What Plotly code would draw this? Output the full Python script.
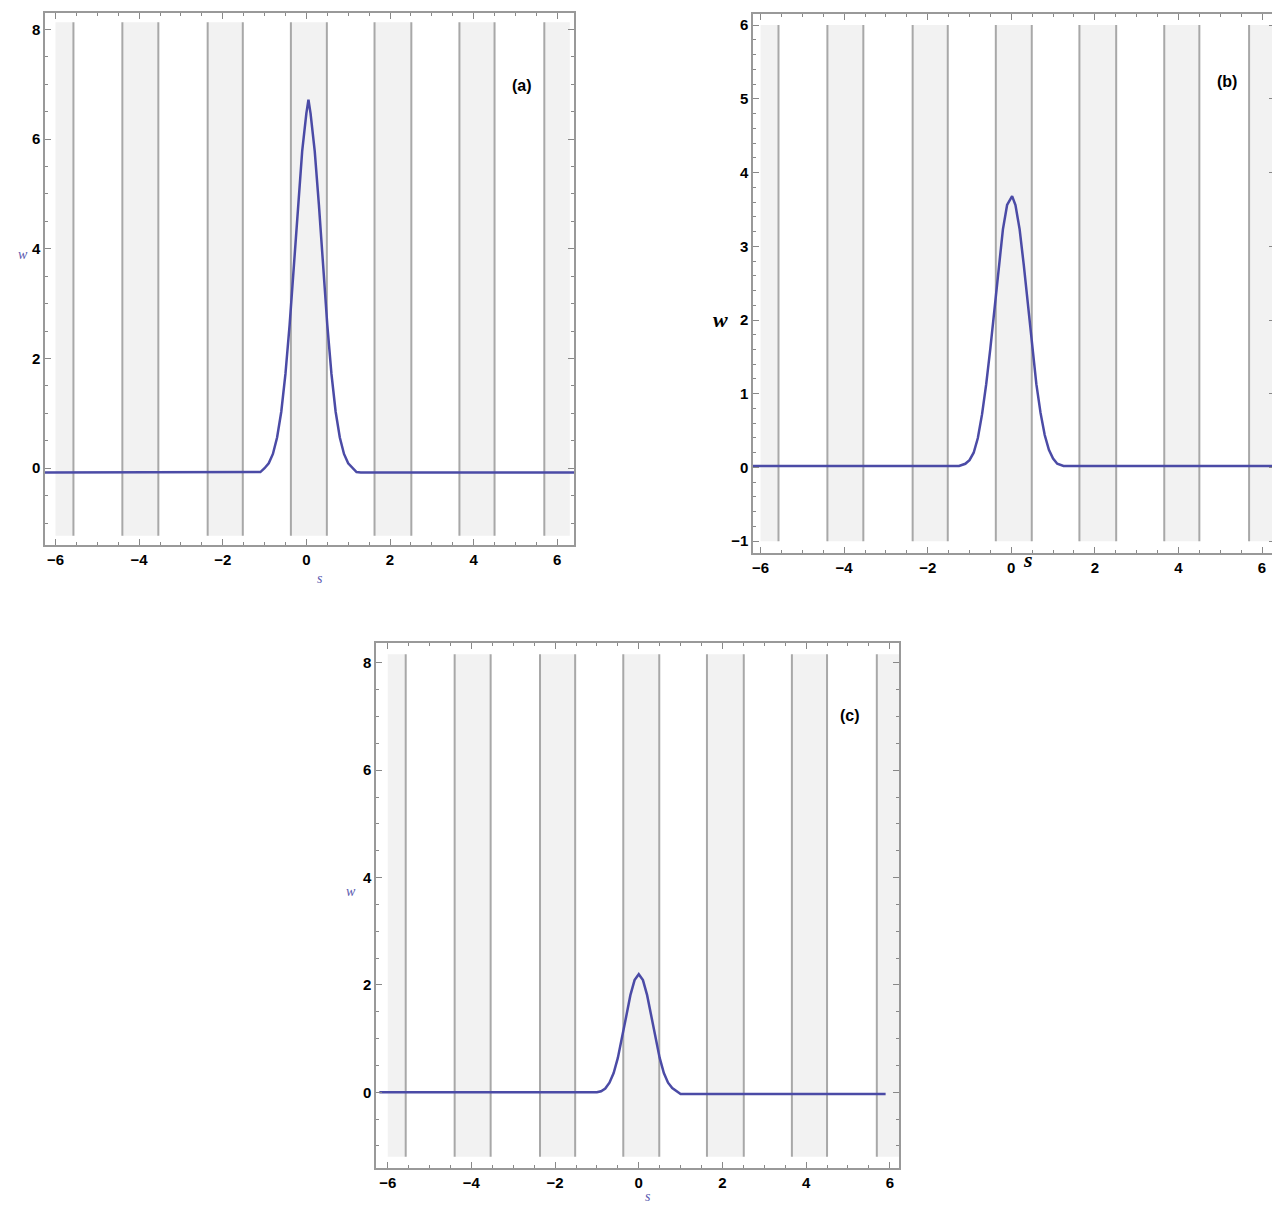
import plotly.graph_objects as go

W, H = 1280, 1212

# Band edges (s) shared by panels
band_lo = [-6.0, -4.40, -2.36, -0.37, 1.63, 3.66, 5.69]
band_hi = [-5.57, -3.54, -1.52, 0.49, 2.51, 4.50, 6.30]
band_left_line = [False, True, True, True, True, True, True]
band_right_line = [True, True, True, True, True, True, False]

# Panel (a)
sa = [-6.25, -1.2, -1.1, -1.0, -0.9, -0.8, -0.7, -0.6, -0.5, -0.4, -0.3, -0.2, -0.1, 0.0, 0.05,
      0.1, 0.2, 0.3, 0.4, 0.5, 0.6, 0.7, 0.8, 0.9, 1.0, 1.1, 1.2, 1.3, 6.4]
wa = [-0.08, -0.08, -0.07, 0.00, 0.09, 0.26, 0.56, 1.03, 1.72, 2.62, 3.68, 4.80, 5.78, 6.47, 6.72,
      6.47, 5.78, 4.80, 3.68, 2.62, 1.72, 1.03, 0.56, 0.26, 0.09, 0.00, -0.07, -0.08, -0.08]
# Panel (b)
sb = [-6.18, -1.25, -1.1, -1.0, -0.9, -0.8, -0.7, -0.6, -0.5, -0.4, -0.3, -0.2, -0.1, 0.0, 0.02,
      0.1, 0.2, 0.3, 0.4, 0.5, 0.6, 0.7, 0.8, 0.9, 1.0, 1.1, 1.25, 6.31]
wb = [0.02, 0.02, 0.05, 0.10, 0.20, 0.40, 0.72, 1.13, 1.62, 2.18, 2.74, 3.23, 3.56, 3.67, 3.68,
      3.56, 3.23, 2.74, 2.18, 1.62, 1.13, 0.74, 0.44, 0.24, 0.12, 0.05, 0.02, 0.02]
# Panel (c)
sc = [-6.2, -1.0, -0.9, -0.8, -0.7, -0.6, -0.5, -0.4, -0.3, -0.2, -0.1, 0.0,
      0.1, 0.2, 0.3, 0.4, 0.5, 0.6, 0.7, 0.8, 0.9, 1.0, 5.9]
wc = [0.0, 0.0, 0.02, 0.07, 0.18, 0.36, 0.64, 1.0, 1.41, 1.81, 2.09, 2.2,
      2.09, 1.81, 1.41, 1.0, 0.64, 0.36, 0.18, 0.08, 0.02, -0.03, -0.03]

panels = [
    dict(s=sa, w=wa, xr=[-6.25, 6.4], yr=[-1.4, 8.3], sh=[-1.23, 8.13],
         yt=[0, 2, 4, 6, 8], ym=0.5, px=(37, 566), py=(5, 537), lab="(a)", lp=(5.15, 6.98),
         wpos=(8, 237), spos=(307, 570), big=False),
    dict(s=sb, w=wb, xr=[-6.18, 6.31], yr=[-1.16, 6.15], sh=[-1.0, 6.0],
         yt=[-1, 0, 1, 2, 3, 4, 5, 6], ym=0.2, px=(745, 1267), py=(6, 545), lab="(b)", lp=(5.15, 5.23),
         wpos=(712, 297), spos=(1027, 551), big=True),
    dict(s=sc, w=wc, xr=[-6.28, 6.22], yr=[-1.41, 8.37], sh=[-1.2, 8.16],
         yt=[0, 2, 4, 6, 8], ym=0.5, px=(368, 891), py=(635, 1160), lab="(c)", lp=(5.05, 7.02),
         wpos=(336, 893), spos=(640, 1198), big=False),
]

fig = go.Figure()
shapes, annos = [], []
tickfont = dict(family="Liberation Sans", size=15, color="black", weight="bold")
for i, p in enumerate(panels):
    n = "" if i == 0 else str(i + 1)
    xa, ya = "x" + n, "y" + n
    for lo, hi, ll, rl in zip(band_lo, band_hi, band_left_line, band_right_line):
        shapes.append(dict(type="rect", xref=xa, yref=ya, x0=lo, x1=hi, y0=p["sh"][0], y1=p["sh"][1],
                           fillcolor="#f2f2f2", line_width=0, layer="below"))
        for flag, xv in ((ll, lo), (rl, hi)):
            if flag:
                shapes.append(dict(type="line", xref=xa, yref=ya, x0=xv, x1=xv, y0=p["sh"][0], y1=p["sh"][1],
                                   line=dict(color="#a8a8a8", width=2), layer="below"))
    fig.add_trace(go.Scatter(x=p["s"], y=p["w"], mode="lines", xaxis=xa, yaxis=ya,
                             line=dict(color="#4b4ba6", width=2.5),
                             showlegend=False, hoverinfo="skip"))
    ax = dict(domain=[p["px"][0] / W, p["px"][1] / W], range=p["xr"], anchor=ya,
              tickvals=[-6, -4, -2, 0, 2, 4, 6], ticks="inside", ticklen=6, tickcolor="#888",
              minor=dict(dtick=0.5, ticks="inside", ticklen=3, tickcolor="#888"),
              showgrid=False, zeroline=False, showline=True, linecolor="#999", linewidth=1.5,
              mirror="ticks", tickfont=tickfont, automargin=False)
    ay = dict(domain=[1 - p["py"][1] / H, 1 - p["py"][0] / H], range=p["yr"], anchor=xa,
              tickvals=p["yt"], ticks="inside", ticklen=6, tickcolor="#888",
              minor=dict(dtick=p["ym"], ticks="inside", ticklen=3, tickcolor="#888"),
              showgrid=False, zeroline=False, showline=True, linecolor="#999", linewidth=1.5,
              mirror="ticks", tickfont=tickfont, automargin=False)
    fig.update_layout(**{"xaxis" + n: ax, "yaxis" + n: ay})
    annos.append(dict(xref=xa, yref=ya, x=p["lp"][0], y=p["lp"][1], text="<b>" + p["lab"] + "</b>",
                      showarrow=False, font=dict(family="Liberation Sans", size=16, color="black")))
    if p["big"]:
        tf = dict(family="Liberation Serif", size=22, color="black")
        wt, st = "<b><i>w</i></b>", "<b><i>s</i></b>"
    else:
        tf = dict(family="Liberation Serif", size=14, color="#5a5ab0")
        wt, st = "<i>w</i>", "<i>s</i>"
    annos.append(dict(xref="paper", yref="paper", x=p["wpos"][0] / W, y=1 - p["wpos"][1] / H,
                      text=wt, showarrow=False, font=tf))
    annos.append(dict(xref="paper", yref="paper", x=p["spos"][0] / W, y=1 - p["spos"][1] / H,
                      text=st, showarrow=False, font=tf))

fig.update_layout(width=W, height=H, margin=dict(l=0, r=0, t=0, b=0, autoexpand=False),
                  plot_bgcolor="white", paper_bgcolor="white", shapes=shapes, annotations=annos)
fig.write_html("out.html")
